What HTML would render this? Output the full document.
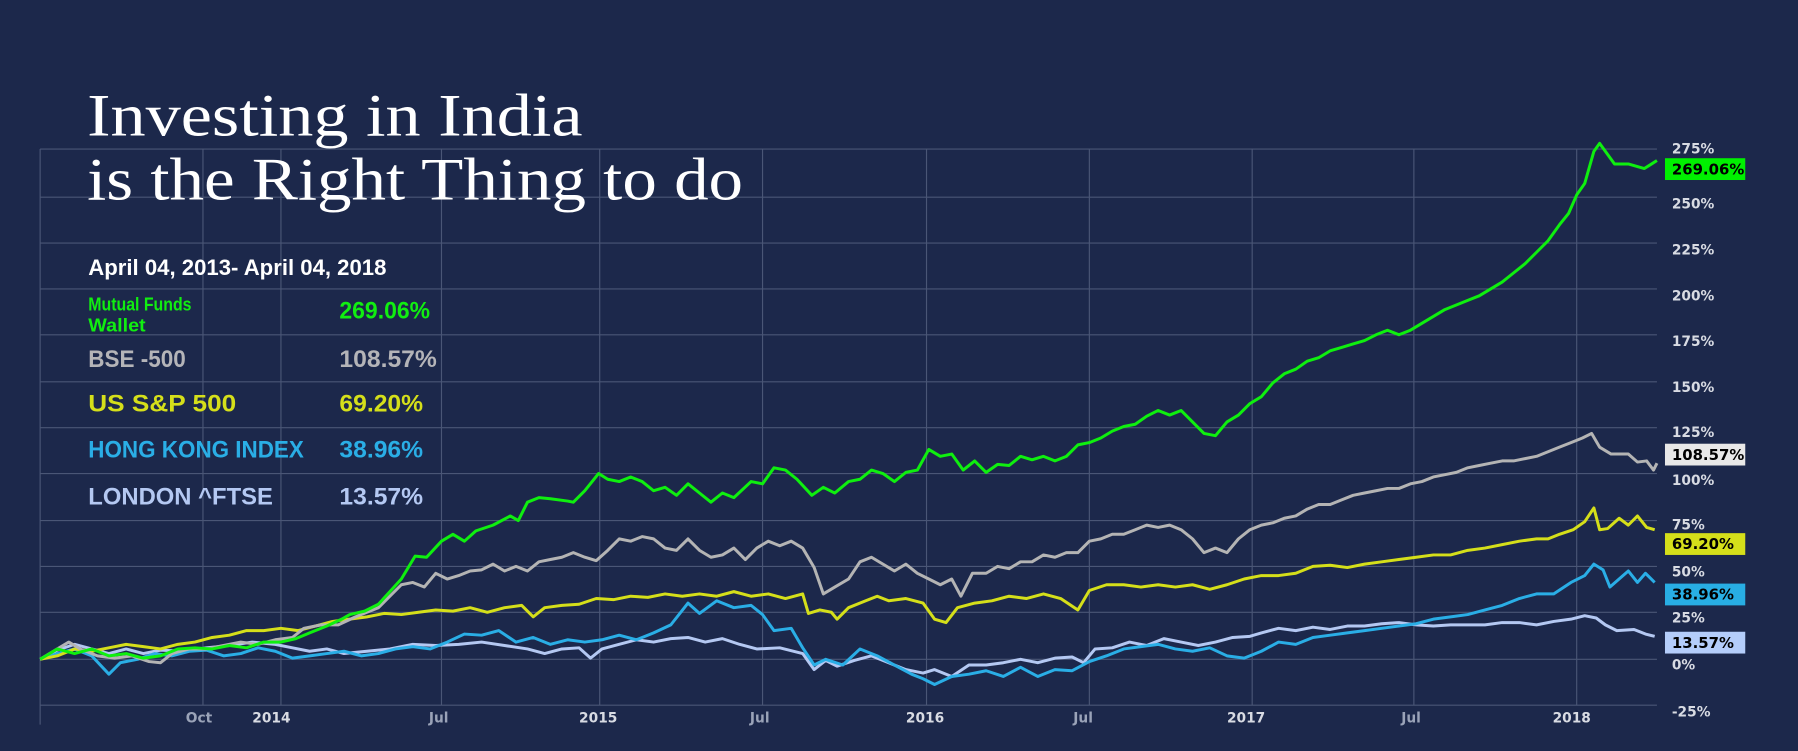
<!DOCTYPE html>
<html><head><meta charset="utf-8"><style>
html,body{margin:0;padding:0;background:#1c284b;}
svg{display:block}
</style></head><body>
<svg width="1798" height="751" viewBox="0 0 1568 655" preserveAspectRatio="none" xmlns="http://www.w3.org/2000/svg">
<rect width="1568" height="655" fill="#1c284b"/>
<g stroke="#4a5676" stroke-width="1">
<line x1="35" y1="130" x2="1445" y2="130"/>
<line x1="35" y1="172" x2="1445" y2="172"/>
<line x1="35" y1="212" x2="1445" y2="212"/>
<line x1="35" y1="252" x2="1445" y2="252"/>
<line x1="35" y1="292" x2="1445" y2="292"/>
<line x1="35" y1="333" x2="1445" y2="333"/>
<line x1="35" y1="373" x2="1445" y2="373"/>
<line x1="35" y1="413" x2="1445" y2="413"/>
<line x1="35" y1="454" x2="1445" y2="454"/>
<line x1="35" y1="494" x2="1445" y2="494"/>
<line x1="35" y1="534" x2="1445" y2="534"/>
<line x1="35" y1="575" x2="1445" y2="575"/>
<line x1="35" y1="615" x2="1445" y2="615"/>
<line x1="35" y1="130" x2="35" y2="632"/>
<line x1="177" y1="130" x2="177" y2="615"/>
<line x1="245" y1="130" x2="245" y2="615"/>
<line x1="385" y1="130" x2="385" y2="615"/>
<line x1="523" y1="130" x2="523" y2="615"/>
<line x1="665" y1="130" x2="665" y2="615"/>
<line x1="808" y1="130" x2="808" y2="615"/>
<line x1="950" y1="130" x2="950" y2="615"/>
<line x1="1092" y1="130" x2="1092" y2="615"/>
<line x1="1233" y1="130" x2="1233" y2="615"/>
<line x1="1375" y1="130" x2="1375" y2="615"/>
</g>
<g fill="none" stroke-width="2.6" stroke-linejoin="round">
<polyline stroke="#b4c8f2" points="35,575 50,567 65,562 80,566 95,570 110,566 125,570 140,567 160,568 180,565 200,563 220,560 240,562 255,565 270,568 285,566 300,570 320,568 340,566 360,562 380,563 400,562 420,560 440,563 460,566 475,570 490,566 505,565 515,574 525,566 540,562 555,558 570,560 585,557 600,556 615,560 630,557 645,562 660,566 680,565 700,570 710,584 720,576 730,581 745,576 760,572 775,578 790,584 805,587 815,584 830,590 845,580 860,580 875,578 890,575 905,578 920,574 935,573 945,578 955,566 970,565 985,560 1000,563 1015,557 1030,560 1045,563 1060,560 1075,556 1090,555 1100,552 1115,548 1130,550 1145,547 1160,549 1175,546 1190,546 1205,544 1220,543 1235,545 1250,546 1265,545 1280,545 1295,545 1310,543 1325,543 1340,545 1355,542 1370,540 1382,537 1392,539 1400,545 1410,550 1425,549 1435,553 1443,555"/>
<polyline stroke="#2aaee6" points="35,575 50,570 65,566 80,572 95,588 105,578 120,575 135,570 150,572 165,568 180,567 195,572 210,570 225,565 240,568 255,574 270,572 285,570 300,568 315,572 330,570 345,566 360,564 375,566 390,560 405,553 420,554 435,550 450,560 465,556 480,562 495,558 510,560 525,558 540,554 555,558 570,552 585,545 600,526 610,535 625,524 640,530 655,528 665,536 675,550 690,548 700,565 710,580 720,575 735,580 750,566 765,572 780,580 795,588 805,592 815,597 830,590 845,588 860,585 875,590 890,582 905,590 920,584 935,585 950,577 965,572 980,566 995,564 1010,562 1025,566 1040,568 1055,565 1070,572 1085,574 1100,568 1115,560 1130,562 1145,556 1160,554 1175,552 1190,550 1205,548 1220,546 1235,544 1250,540 1265,538 1280,536 1295,532 1310,528 1325,522 1340,518 1355,518 1370,508 1382,502 1390,492 1398,497 1404,512 1412,505 1420,498 1428,508 1435,500 1443,508"/>
<polyline stroke="#d5df1a" points="35,575 50,572 65,566 80,568 95,565 110,562 125,564 140,566 155,562 170,560 185,556 200,554 215,550 230,550 245,548 260,550 275,546 290,542 305,540 320,538 335,535 350,536 365,534 380,532 395,533 410,530 425,534 440,530 455,528 465,538 475,530 490,528 505,527 520,522 535,523 550,520 565,521 580,518 595,520 610,518 625,520 640,516 655,520 670,518 685,522 700,518 705,535 715,532 725,534 730,540 740,530 755,524 765,520 775,524 790,522 805,526 815,540 825,543 835,530 850,526 865,524 880,520 895,522 910,518 925,522 940,532 950,515 965,510 980,510 995,512 1010,510 1025,512 1040,510 1055,514 1070,510 1085,505 1100,502 1115,502 1130,500 1145,494 1160,493 1175,495 1190,492 1205,490 1220,488 1235,486 1250,484 1265,484 1280,480 1295,478 1310,475 1325,472 1340,470 1350,470 1360,466 1372,462 1382,455 1390,443 1395,462 1402,461 1412,452 1420,458 1428,450 1436,460 1443,462"/>
<polyline stroke="#b4b4b4" points="35,575 50,566 60,560 70,566 85,572 100,574 115,572 130,577 140,578 150,570 165,566 180,566 195,563 210,560 225,562 240,558 255,556 265,548 280,545 295,545 310,538 320,534 330,530 340,520 350,510 360,508 370,512 380,500 390,505 400,502 410,498 420,497 430,492 440,498 450,494 460,498 470,490 480,488 490,486 500,482 510,486 520,489 530,480 540,470 550,472 560,468 570,470 580,478 590,480 600,470 610,480 620,486 630,484 640,478 650,488 660,478 670,472 680,476 690,472 700,478 710,495 718,518 728,512 740,505 750,490 760,486 770,492 780,498 790,492 800,500 810,505 820,510 830,505 838,520 848,500 860,500 870,494 880,496 890,490 900,490 910,484 920,486 930,482 940,482 950,472 960,470 970,466 980,466 990,462 1000,458 1010,460 1020,458 1030,462 1040,470 1050,482 1060,478 1070,482 1080,470 1090,462 1100,458 1110,456 1120,452 1130,450 1140,444 1150,440 1160,440 1170,436 1180,432 1190,430 1200,428 1210,426 1220,426 1230,422 1240,420 1250,416 1260,414 1270,412 1280,408 1290,406 1300,404 1310,402 1320,402 1330,400 1340,398 1350,394 1360,390 1370,386 1380,382 1388,378 1395,390 1405,396 1420,396 1428,403 1436,402 1442,410 1445,404"/>
<polyline stroke="#0fef0f" points="35,575 50,566 65,570 80,566 95,572 110,570 125,574 140,572 155,566 170,565 185,566 200,563 215,565 230,560 245,560 258,557 270,552 285,546 298,540 305,536 318,533 330,527 340,516 350,505 362,485 372,486 385,472 395,466 405,472 415,463 430,458 445,450 452,454 460,438 470,434 480,435 495,437 500,438 510,428 522,413 530,418 540,420 550,416 560,420 570,428 580,425 590,432 600,422 610,430 620,438 630,430 640,434 655,420 665,422 675,408 685,410 695,418 708,432 718,425 728,430 740,420 750,418 760,410 770,413 780,420 790,412 800,410 810,392 820,398 830,396 840,410 850,402 860,412 870,405 880,406 890,398 900,401 910,398 920,402 930,398 940,388 950,386 960,382 970,376 980,372 990,370 1000,363 1010,358 1020,362 1030,358 1040,368 1050,378 1060,380 1070,368 1080,362 1090,352 1100,346 1110,334 1120,326 1130,322 1140,315 1150,312 1160,306 1170,303 1180,300 1190,297 1200,292 1210,288 1220,292 1230,288 1240,282 1250,276 1260,270 1270,266 1280,262 1290,258 1300,252 1310,246 1320,238 1330,230 1340,220 1350,210 1360,196 1368,186 1375,170 1382,160 1390,132 1395,125 1408,143 1420,143 1434,147 1445,140"/>
</g>
<g font-family="'DejaVu Sans',sans-serif" font-size="12" fill="#d8dbe3" font-weight="bold">
<text x="1458" y="134">275%</text>
<text x="1458" y="182">250%</text>
<text x="1458" y="222">225%</text>
<text x="1458" y="262">200%</text>
<text x="1458" y="302">175%</text>
<text x="1458" y="342">150%</text>
<text x="1458" y="381">125%</text>
<text x="1458" y="423">100%</text>
<text x="1458" y="462">75%</text>
<text x="1458" y="503">50%</text>
<text x="1458" y="543">25%</text>
<text x="1458" y="584">0%</text>
<text x="1458" y="625">-25%</text>
<text x="162" y="630" fill="#9aa3b8">Oct</text>
<text x="220" y="630">2014</text>
<text x="374" y="630" fill="#9aa3b8">Jul</text>
<text x="505" y="630">2015</text>
<text x="654" y="630" fill="#9aa3b8">Jul</text>
<text x="790" y="630">2016</text>
<text x="936" y="630" fill="#9aa3b8">Jul</text>
<text x="1070" y="630">2017</text>
<text x="1222" y="630" fill="#9aa3b8">Jul</text>
<text x="1354" y="630">2018</text>
</g>
<g font-family="'DejaVu Sans',sans-serif" font-size="13" font-weight="bold" fill="#000">
<rect x="1452" y="138" width="70" height="19" fill="#00f000"/><text x="1458" y="152">269.06%</text>
<rect x="1452" y="387" width="70" height="19" fill="#e8e8e8"/><text x="1458" y="401">108.57%</text>
<rect x="1452" y="465" width="70" height="19" fill="#d5df1a"/><text x="1458" y="479">69.20%</text>
<rect x="1452" y="509" width="70" height="19" fill="#28aee4"/><text x="1458" y="523">38.96%</text>
<rect x="1452" y="551" width="70" height="19" fill="#b4cdfa"/><text x="1458" y="565">13.57%</text>
</g>
<g font-family="'Liberation Serif',serif" font-size="53" fill="#ffffff">
<text x="76" y="118" textLength="432" lengthAdjust="spacingAndGlyphs">Investing in India</text>
<text x="76" y="174" textLength="572" lengthAdjust="spacingAndGlyphs">is the Right Thing to do</text>
</g>
<g font-family="'Liberation Sans Narrow','Liberation Sans',sans-serif" font-weight="bold" lengthAdjust="spacingAndGlyphs">
<text x="77" y="240" font-size="19" fill="#ffffff" textLength="260" lengthAdjust="spacingAndGlyphs">April 04, 2013- April 04, 2018</text>
<text x="77" y="271" font-size="16" fill="#11ee11" textLength="90" lengthAdjust="spacingAndGlyphs">Mutual Funds</text>
<text x="77" y="289" font-size="16" fill="#11ee11" textLength="50" lengthAdjust="spacingAndGlyphs">Wallet</text>
<text x="296" y="278" font-size="21" fill="#11ee11" textLength="79" lengthAdjust="spacingAndGlyphs">269.06%</text>
<text x="77" y="320" font-size="21" fill="#b4b4b8" textLength="85" lengthAdjust="spacingAndGlyphs">BSE -500</text>
<text x="296" y="320" font-size="21" fill="#b4b4b8" textLength="85" lengthAdjust="spacingAndGlyphs">108.57%</text>
<text x="77" y="359" font-size="21" fill="#d5df1a" textLength="129" lengthAdjust="spacingAndGlyphs">US S&amp;P 500</text>
<text x="296" y="359" font-size="21" fill="#d5df1a" textLength="73" lengthAdjust="spacingAndGlyphs">69.20%</text>
<text x="77" y="399" font-size="21" fill="#2aaee6" textLength="188" lengthAdjust="spacingAndGlyphs">HONG KONG INDEX</text>
<text x="296" y="399" font-size="21" fill="#2aaee6" textLength="73" lengthAdjust="spacingAndGlyphs">38.96%</text>
<text x="77" y="440" font-size="21" fill="#b4c8f2" textLength="161" lengthAdjust="spacingAndGlyphs">LONDON ^FTSE</text>
<text x="296" y="440" font-size="21" fill="#b4c8f2" textLength="73" lengthAdjust="spacingAndGlyphs">13.57%</text>
</g>
</svg>
</body></html>
